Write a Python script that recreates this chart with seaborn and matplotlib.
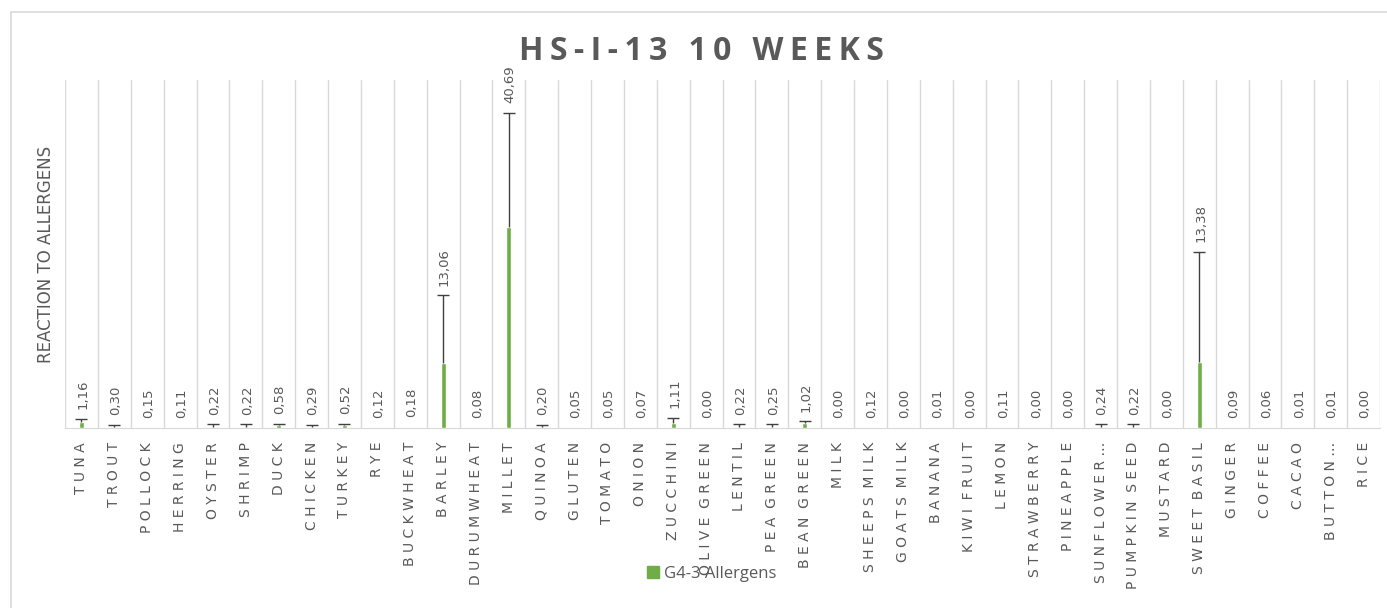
import numpy as np
import matplotlib
matplotlib.use("Agg")
import matplotlib.pyplot as plt
from matplotlib.patches import Patch, Rectangle
import seaborn as sns

categories = ["TUNA", "TROUT", "POLLOCK", "HERRING", "OYSTER", "SHRIMP", "DUCK", "CHICKEN",
              "TURKEY", "RYE", "BUCKWHEAT", "BARLEY", "DURUMWHEAT", "MILLET", "QUINOA", "GLUTEN",
              "TOMATO", "ONION", "ZUCCHINI", "OLIVE GREEN", "LENTIL", "PEA GREEN", "BEAN GREEN",
              "MILK", "SHEEPS MILK", "GOATS MILK", "BANANA", "KIWI FRUIT", "LEMON", "STRAWBERRY",
              "PINEAPPLE", "SUNFLOWER…", "PUMPKIN SEED", "MUSTARD", "SWEET BASIL", "GINGER",
              "COFFEE", "CACAO", "BUTTON…", "RICE"]
values = [1.16, 0.30, 0.15, 0.11, 0.22, 0.22, 0.58, 0.29, 0.52, 0.12, 0.18, 13.06, 0.08, 40.69,
          0.20, 0.05, 0.05, 0.07, 1.11, 0.00, 0.22, 0.25, 1.02, 0.00, 0.12, 0.00, 0.01, 0.00,
          0.11, 0.00, 0.00, 0.24, 0.22, 0.00, 13.38, 0.09, 0.06, 0.01, 0.01, 0.00]
errors = [0.7, 0.3, 0.0, 0.0, 0.5, 0.5, 0.3, 0.3, 0.3, 0.0, 0.0, 13.8, 0.0, 23.1,
          0.5, 0.0, 0.0, 0.0, 0.9, 0.0, 0.5, 0.5, 0.3, 0.0, 0.0, 0.0, 0.0, 0.0,
          0.0, 0.0, 0.0, 0.5, 0.5, 0.0, 22.3, 0.0, 0.0, 0.0, 0.0, 0.0]
series_name = "G4-3 Allergens"
title = "HS-I-13 10 WEEKS"

green = "#70AD47"
grey_txt = "#595959"
grid_c = "#D9D9D9"

sns.set_style("white")
plt.rcParams["font.family"] = ["DejaVu Sans"]

fig = plt.figure(figsize=(13.87, 6.08), dpi=100)
ax = fig.add_axes([65 / 1387, 180 / 608, 1315 / 1387, 348 / 608])

sns.barplot(x=categories, y=values, color=green, width=0.15, saturation=1, ax=ax)
pos = np.arange(len(categories))
vals = np.array(values)
errs = np.array(errors)
top = vals + errs
m = errs > 0
# plus-only error bars with a cap at the top
ax.vlines(pos[m], vals[m], top[m], color="#404040", lw=1, zorder=3)
ax.plot(pos[m], top[m], ls="none", marker="_", ms=8, mew=1, color="#404040", zorder=3)

# data labels above the error bars
for x, v, t in zip(pos, values, top):
    ax.annotate(f"{v:.2f}".replace(".", ","), (x, t), xytext=(1, 7),
                textcoords="offset points", rotation=90, ha="center", va="bottom",
                fontsize=9.5, color=grey_txt)

ax.set_xlim(-0.5, len(categories) - 0.5)
ax.set_ylim(0, 70.4)
ax.set_yticks([])
ax.set_xticks(pos)
spaced = ["  ".join(" ".join(w) for w in c.split(" ")) for c in categories]
ax.set_xticklabels(spaced, rotation=90, fontsize=10, color=grey_txt)
ax.tick_params(axis="x", length=0, pad=10)
ax.set_xticks(np.arange(-0.5, len(categories)), minor=True)
ax.tick_params(axis="x", which="minor", length=0)
ax.grid(True, which="minor", axis="x", color=grid_c, lw=1)
ax.grid(False, which="major")
for s in ["top", "left", "right"]:
    ax.spines[s].set_visible(False)
ax.spines["bottom"].set_color(grid_c)
ax.set_xlabel("")
ax.set_ylabel("REACTION TO ALLERGENS", fontsize=12, color=grey_txt)
ax.yaxis.set_label_coords(-10 / 1315, 0.5)

fig.text(701 / 1387, 1 - 52 / 608, "\u2009".join(title), ha="center", va="center",
         fontsize=23, fontweight="bold", color=grey_txt, family=["Open Sans", "DejaVu Sans"])

fig.legend(handles=[Patch(color=green, label=series_name)], loc="center",
           bbox_to_anchor=(712 / 1387, 1 - 574 / 608), frameon=False,
           handlelength=0.7, handleheight=0.7, handletextpad=0.3,
           prop={"family": "Open Sans", "size": 12}, labelcolor=grey_txt)

fig.add_artist(Rectangle((10.5 / 1387, -0.1), 1.2, 1.1 - 12.5 / 608,
                         transform=fig.transFigure, fill=False, edgecolor=grid_c, lw=1.2))

fig.savefig("out.png", dpi=100)
